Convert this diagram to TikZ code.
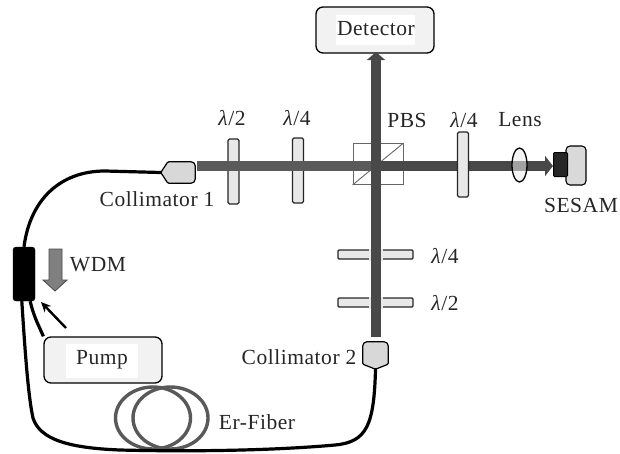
\documentclass[tikz,border=0pt]{standalone}
\usepackage{fontspec}
\setmainfont[LetterSpace=2.5]{Liberation Serif}
\usetikzlibrary{shapes.geometric,arrows.meta}
\definecolor{beamgray}{HTML}{484848}
\definecolor{platefill}{HTML}{E8E8E8}
\definecolor{collfill}{HTML}{D8D8D8}
\definecolor{boxfill}{HTML}{F2F2F2}
\newcommand{\wave}{\textit{λ}}
\tikzset{
  label/.style={font=\fontsize{21.5}{21.5}\selectfont,inner sep=0pt,text=black!85},
  box/.style={draw=black,line width=1.3pt,fill=boxfill,rounded corners=7pt,minimum width=#1,minimum height=46pt,inner sep=0pt},
  plateV/.style={draw=black!85,line width=1.1pt,fill=platefill,rounded corners=1.5pt,minimum width=11pt,minimum height=65pt,inner sep=0pt},
  plateH/.style={draw=black!85,line width=1.1pt,fill=platefill,rounded corners=1pt,minimum width=75pt,minimum height=9pt,inner sep=0pt},
  fiber/.style={line width=3.2pt,black},
  coil/.style={draw=black!65,line width=3.4pt,ellipse,minimum width=75pt,minimum height=62pt,inner sep=0pt},
  beam/.style={line width=10pt,beamgray},
  halo/.style={line width=14pt,platefill},
  coll/.style={draw=black,line width=1.2pt,fill=collfill},
}
\begin{document}
\begin{tikzpicture}[x=1pt,y=-1pt]
  \useasboundingbox (0,0) rectangle (620,453);
  \fill[white] (0,0) rectangle (620,453);

  \node[coil] (coilA) at (153,418) {};
  \node[coil] (coilB) at (170.5,418) {};

  \node[box=118pt] (detector) at (375,30) {};
  \node[box=118pt] (pump) at (103,360) {};
  \fill[white] (336,15) rectangle (415,45);
  \fill[white] (66,344) rectangle (138,378);
  \node[label] (detectortext) at (376,29) {Detector};
  \node[label] (pumptext) at (102,360) {Pump};

  \node[draw=black!60,fill=white,line width=.9pt,minimum height=41pt,minimum width=50pt,inner sep=0pt] (pbs) at (378,164) {};
  \draw[black!60,line width=.9pt] (pbs.south west) -- (pbs.north east);

  \node[plateV] (hwpA) at (233.5,171.5) {};
  \node[plateV] (qwpA) at (298,170.5) {};
  \node[plateH] (qwpB) at (375.5,254.5) {};
  \node[plateH] (hwpB) at (375.5,302.5) {};

  \coordinate (beamL) at (197,166);
  \coordinate (pbsC) at (376,166);
  \coordinate (pbsR) at (380,166);
  \coordinate (beamB) at (376,337);
  \coordinate (beamT) at (376,52);
  \coordinate (beamR) at (553,166);

  \draw[halo] (qwpB.center -| beamB) ++(0,-6) -- ++(0,12);
  \draw[halo] (hwpB.center -| beamB) ++(0,-6) -- ++(0,12);
  \draw[beam,beamgray!90!white] (beamL) -- (pbsC);
  \draw[beam,-{Triangle[length=8pt,width=18pt]}] (beamB) -- (beamT);
  \draw[beam,-{Triangle[length=8pt,width=20pt]}] (pbsR) -- (beamR);

  \node[plateV] (qwpC) at (463,164.5) {};
  \node[draw=black,line width=1.3pt,fill=black!8,fill opacity=.55,ellipse,minimum width=15pt,minimum height=34pt,inner sep=0pt] (lens) at (519.5,165) {};

  \node[draw=black,line width=1.1pt,fill=black!15,rounded corners=4pt,minimum width=20pt,minimum height=39pt,inner sep=0pt] (mirror) at (576,165.5) {};
  \node[draw=black,fill=black!85,line width=1pt,rounded corners=1pt,minimum width=14pt,minimum height=24pt,inner sep=0pt] (sesam) at (560.5,164.5) {};

  \node[minimum width=34pt,minimum height=21pt,inner sep=0pt] (collA) at (178,172.5) {};
  \draw[coll] (collA.west) [rounded corners=1pt] -- ([xshift=7pt]collA.north west) [rounded corners=4pt] -- (collA.north east) -- (collA.south east) [rounded corners=1pt] -- ([xshift=7pt]collA.south west) -- cycle;
  \node[minimum width=25pt,minimum height=27pt,inner sep=0pt] (collB) at (375.5,355.5) {};
  \draw[coll] (collB.south) [rounded corners=1pt] -- ([yshift=5pt]collB.south east) [rounded corners=4pt] -- (collB.north east) -- (collB.north west) [rounded corners=1pt] -- ([yshift=5pt]collB.south west) -- cycle;

  \node[draw=black,fill=black,rounded corners=3pt,minimum width=22pt,minimum height=54pt,inner sep=0pt] (wdm) at (24,274) {};

  \draw[fiber] (collA.west) -- (105,171) .. controls (60,171) and (30,200) .. (wdm.north);
  \draw[fiber] (wdm.south west) ++(9,0) .. controls (25,350) and (28,395) .. (33,418)
    .. controls (40,440) and (70,448) .. (120,450)
    .. controls (200,452) and (280,450) .. (335,445)
    .. controls (367,442) and (374,425) .. (collB.south);
  \draw[fiber] (wdm.south east) ++(-5,0) .. controls (34,318) and (40,328) .. (pump.north west);

  \draw[draw=black!70,fill=black!50,line width=.9pt] (49,249) -- (62,249) -- (62,280) -- (67,280) -- (55,291) -- (43,280) -- (49,280) -- cycle;
  \coordinate (pumparrow) at (66,328);
  \coordinate (wdmarrow) at (41,302);
  \draw[line width=2.4pt,black,-{Stealth[length=10pt,width=9pt]}] (pumparrow) -- (wdmarrow);

  \node[label] (hwpAtext) at (232,118) {\wave/2};
  \node[label] (qwpAtext) at (297,118) {\wave/4};
  \node[label] (pbstext) at (407,120) {PBS};
  \node[label] (qwpCtext) at (464,120) {\wave/4};
  \node[label] (lenstext) at (520,120) {Lens};
  \node[label] (sesamtext) at (581,205) {SESAM};
  \node[label] (collAtext) at (157,199) {Collimator 1};
  \node[label] (collBtext) at (299,357) {Collimator 2};
  \node[label] (qwpBtext) at (445,256) {\wave/4};
  \node[label] (hwpBtext) at (445,303) {\wave/2};
  \node[label] (wdmtext) at (98,265) {WDM};
  \node[label] (fibertext) at (257,422) {Er-Fiber};
\end{tikzpicture}
\end{document}
